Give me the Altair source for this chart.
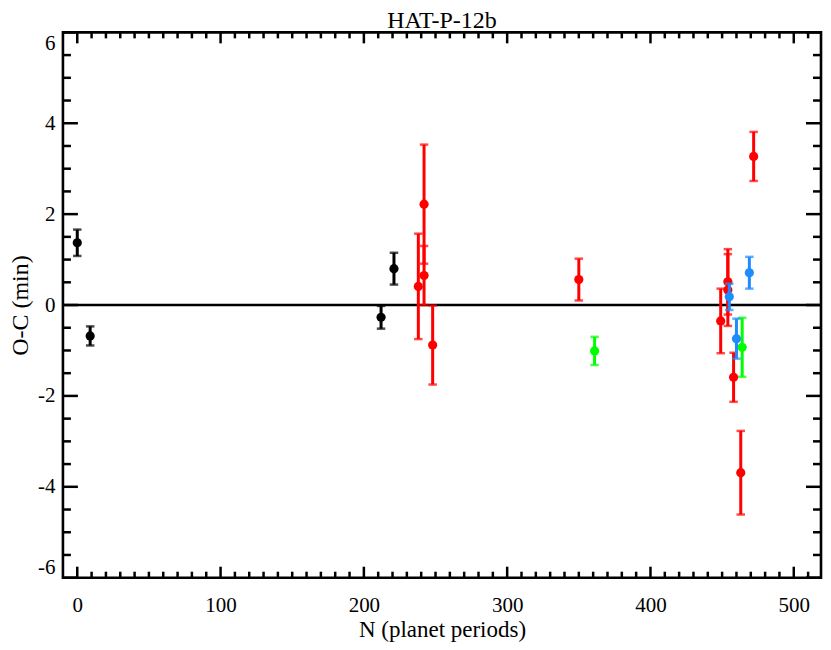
import altair as alt
import pandas as pd

# ---- data ----
black_n = [0, 9, 212, 221]
black_oc = [1.37, -0.68, -0.27, 0.80]
black_err = [0.29, 0.21, 0.25, 0.35]

red_n = [238, 242, 242, 248, 350, 449, 454, 454, 458, 463, 472]
red_oc = [0.41, 2.22, 0.65, -0.88, 0.56, -0.35, 0.51, 0.33, -1.59, -3.69, 3.27]
red_err = [1.16, 1.31, 0.65, 0.87, 0.46, 0.71, 0.72, 0.79, 0.54, 0.92, 0.54]

green_n = [361, 464]
green_oc = [-1.01, -0.93]
green_err = [0.31, 0.65]

blue_n = [455, 460, 469]
blue_oc = [0.18, -0.74, 0.71]
blue_err = [0.29, 0.44, 0.35]

x_major = [0, 100, 200, 300, 400, 500]
x_minor = [v for v in range(10, 520, 10) if v % 100 != 0]
y_major = [-6, -4, -2, 0, 2, 4, 6]
y_minor = [v / 2 for v in range(-11, 12) if v % 4 != 0]

groups = [
    ("#000000", black_n, black_oc, black_err),
    ("#ff0000", red_n, red_oc, red_err),
    ("#00ff00", green_n, green_oc, green_err),
    ("#1e8cff", blue_n, blue_oc, blue_err),
]

W, H = 759, 546
FONT = "Liberation Serif"

xs = alt.Scale(domain=[-10, 519], nice=False, zero=False)
ys = alt.Scale(domain=[-6, 6], nice=False, zero=False)

x_axis = alt.Axis(
    title="N (planet periods)", values=x_major, grid=False,
    labelExpr="'' + datum.value",
    ticks=False, domain=False, labelFont=FONT, labelFontSize=21,
    labelColor="black", labelPadding=17, labelFlush=False,
    titleFont=FONT, titleFontSize=23, titleFontWeight="normal",
    titleColor="black", titlePadding=3,
)
y_axis = alt.Axis(
    title="O-C (min)", values=y_major, grid=False,
    labelExpr="'' + datum.value",
    ticks=False, domain=False, labelFont=FONT, labelFontSize=21,
    labelColor="black", labelPadding=8, labelFlush=True,
    titleFont=FONT, titleFontSize=24, titleFontWeight="normal",
    titleColor="black", titlePadding=5,
)


def X(field):
    return alt.X(field, scale=xs, axis=x_axis)


def Y(field):
    return alt.Y(field, scale=ys, axis=y_axis)


layers = []
zero_df = pd.DataFrame({"y": [0]})
layers.append(
    alt.Chart(zero_df).mark_rule(color="black", strokeWidth=2.5).encode(
        y=Y("y:Q"), x=alt.value(0), x2=alt.value(W)
    )
)

xmaj_df = pd.DataFrame({"t": x_major})
xmin_df = pd.DataFrame({"t": x_minor})
for dfx, ln in [(xmaj_df, 11), (xmin_df, 6)]:
    for y1, y2 in [(H, H - ln), (0, ln)]:
        layers.append(
            alt.Chart(dfx).mark_rule(color="black", strokeWidth=2.5).encode(
                x=X("t:Q"), y=alt.value(y1), y2=alt.value(y2)
            )
        )
ymaj_df = pd.DataFrame({"t": y_major})
ymin_df = pd.DataFrame({"t": y_minor})
for dfx, ln in [(ymaj_df, 15), (ymin_df, 8)]:
    for x1, x2 in [(0, ln), (W, W - ln)]:
        layers.append(
            alt.Chart(dfx).mark_rule(color="black", strokeWidth=2.5).encode(
                y=Y("t:Q"), x=alt.value(x1), x2=alt.value(x2)
            )
        )

for color, ns, ocs, errs in groups:
    df = pd.DataFrame({
        "n": ns, "oc": ocs,
        "lo": [o - e for o, e in zip(ocs, errs)],
        "hi": [o + e for o, e in zip(ocs, errs)],
    })
    base = alt.Chart(df)
    layers.append(
        base.mark_rule(color=color, strokeWidth=3).encode(
            x=X("n:Q"), y=Y("lo:Q"), y2="hi:Q",
        )
    )
    for f in ["lo", "hi"]:
        layers.append(
            base.mark_tick(color=color, orient="horizontal", size=8.5, thickness=2.5).encode(
                x=X("n:Q"), y=Y(f + ":Q"),
            )
        )
    layers.append(
        base.mark_circle(color=color, size=85, opacity=1).encode(
            x=X("n:Q"), y=Y("oc:Q"),
        )
    )

chart = alt.layer(*layers).properties(
    width=W, height=H,
    title=alt.TitleParams("HAT-P-12b", font=FONT, fontSize=24, fontWeight="normal",
                          color="black", offset=-1.5, anchor="middle", frame="group"),
    padding=0,
).configure_view(stroke="black", strokeWidth=2.6)

chart.save("out.html", embed_options={"renderer": "svg", "actions": False})
